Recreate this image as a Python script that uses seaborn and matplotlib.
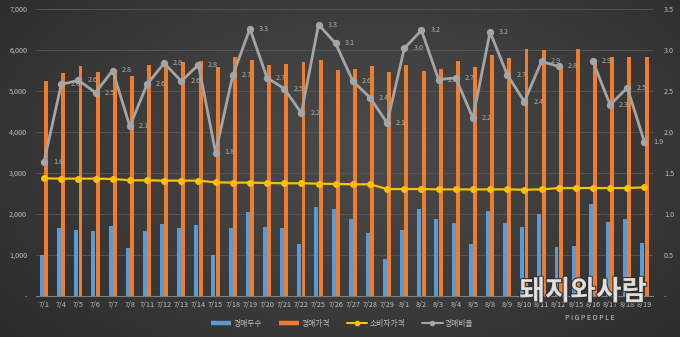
import numpy as np
import pandas as pd
import matplotlib
matplotlib.use("Agg")
import matplotlib.pyplot as plt
from matplotlib.lines import Line2D
import matplotlib.patheffects as pe
import seaborn as sns

# ---------------- data ----------------
dates = ['7/1', '7/4', '7/5', '7/6', '7/7', '7/8', '7/11', '7/12', '7/13', '7/14', '7/15', '7/18',
         '7/19', '7/20', '7/21', '7/22', '7/25', '7/26', '7/27', '7/28', '7/29', '8/1', '8/2', '8/3',
         '8/4', '8/5', '8/8', '8/9', '8/10', '8/11', '8/12', '8/15', '8/16', '8/17', '8/18', '8/19']
head_count = [1010, 1650, 1610, 1590, 1705, 1180, 1590, 1755, 1660, 1720, 1000, 1660,
              2055, 1690, 1660, 1260, 2160, 2110, 1870, 1530, 895, 1610, 2110, 1870,
              1770, 1270, 2065, 1790, 1690, 2000, 1195, 1220, 2235, 1795, 1885, 1285]
auction_price = [5250, 5440, 5620, 5465, 5500, 5367, 5636, 5650, 5700, 5727, 5587, 5832,
                 5750, 5636, 5668, 5717, 5750, 5521, 5538, 5620, 5457, 5636, 5497, 5538,
                 5727, 5595, 5873, 5808, 6035, 6003, 5595, 6020, 5700, 5825, 5832, 5832]
consumer_price = [2870, 2862, 2862, 2862, 2855, 2822, 2822, 2814, 2814, 2814, 2773, 2765,
                  2765, 2757, 2749, 2749, 2740, 2732, 2724, 2724, 2609, 2609, 2609, 2600,
                  2600, 2600, 2600, 2600, 2592, 2600, 2633, 2633, 2633, 2633, 2633, 2650]
ratio = [1.64, 2.58, 2.63, 2.48, 2.75, 2.07, 2.58, 2.84, 2.62, 2.82, 1.75, 2.69,
         3.26, 2.66, 2.53, 2.23, 3.31, 3.08, 2.62, 2.42, 2.11, 3.02, 3.24, 2.64,
         2.66, 2.17, 3.22, 2.70, 2.37, 2.86, 2.80, np.nan, 2.86, 2.33, 2.54, 1.88]
series_names = ['경매두수', '경매가격', '소비자가격', '경매비율']
left_ticks = [0, 1000, 2000, 3000, 4000, 5000, 6000, 7000]
left_ticklabels = ['-', '1,000', '2,000', '3,000', '4,000', '5,000', '6,000', '7,000']
right_ticks = [0, 0.5, 1.0, 1.5, 2.0, 2.5, 3.0, 3.5]
right_ticklabels = ['-', '0.5', '1.0', '1.5', '2.0', '2.5', '3.0', '3.5']
watermark_main = '돼지와사람'
watermark_sub = 'P I G P E O P L E'

# ---------------- style ----------------
BLUE = '#5B9BD5'
ORANGE = '#F07C2E'
YELLOW = '#FFC000'
GRAY = '#A5A5A5'
TXT = '#BFBFBF'

sns.set_style('dark')
plt.rcParams['font.family'] = ['Noto Sans CJK KR', 'DejaVu Sans']
plt.rcParams['axes.unicode_minus'] = False

fig = plt.figure(figsize=(6.8, 3.37), dpi=100)
fig.patch.set_facecolor('#333333')

# radial gradient background
bg = fig.add_axes([0, 0, 1, 1], zorder=-10)
H, W = 337, 680
yy, xx = np.mgrid[0:H, 0:W]
d = np.sqrt(((xx - 360) / 560.0) ** 2 + ((yy - 150) / 330.0) ** 2)
d = np.clip(d, 0, 1)
c0, c1 = 0x4A / 255, 0x24 / 255
val = c0 + (c1 - c0) * d ** 1.2
img = np.dstack([val, val, val])
bg.imshow(img, aspect='auto', extent=[0, 1, 0, 1], origin='upper')
bg.set_axis_off()

ax = fig.add_axes([35.5 / 680, 1 - 296 / 337, (653 - 35.5) / 680, (296 - 9) / 337])
ax.set_facecolor('none')

# bars
df = pd.DataFrame({
    'date': dates * 2,
    'value': head_count + auction_price,
    'series': [series_names[0]] * len(dates) + [series_names[1]] * len(dates),
})
sns.barplot(data=df, x='date', y='value', hue='series', order=dates,
            hue_order=series_names[:2], palette=[BLUE, ORANGE],
            width=0.5, gap=0.08, saturation=1, legend=False, ax=ax,
            edgecolor='none', linewidth=0, zorder=3)

x = np.arange(len(dates))
sns.lineplot(x=x, y=consumer_price, color=YELLOW, marker='o', markersize=4.2,
             markeredgecolor=YELLOW, linewidth=1.6, ax=ax, zorder=5)

ax.set_xlim(-0.5, len(dates) - 0.5)
ax.set_ylim(0, 7000)
ax.set_yticks(left_ticks)
ax.set_yticklabels(left_ticklabels)
ax.set_xlabel('')
ax.set_ylabel('')
ax.grid(False)
for t in left_ticks[1:]:
    ax.axhline(t, color='#555555', linewidth=0.7, zorder=1)
for s in ['top', 'right', 'left']:
    ax.spines[s].set_visible(False)
ax.spines['bottom'].set_color('#7F7F7F')
ax.spines['bottom'].set_linewidth(0.8)
ax.spines['bottom'].set_zorder(4)
ax.tick_params(axis='x', length=0, pad=3.5, labelsize=5.2, colors=TXT)
ax.tick_params(axis='y', length=0, pad=6, labelsize=5.2, colors=TXT)

# secondary axis
ax2 = ax.twinx()
ax2.set_facecolor('none')
seg = np.zeros(len(ratio), dtype=int)
nan_idx = [i for i, v in enumerate(ratio) if np.isnan(v)]
for i in nan_idx:
    seg[i:] += 1
rdf = pd.DataFrame({'x': x, 'ratio': ratio, 'seg': seg})
sns.lineplot(data=rdf, x='x', y='ratio', units='seg', estimator=None, color=GRAY,
             marker='o', markersize=4.5, markeredgecolor=GRAY, linewidth=2.0,
             ax=ax2, zorder=6, legend=False)
for xi, v in zip(x, ratio):
    if np.isnan(v):
        continue
    ax2.annotate(f'{v:.1f}', (xi, v), xytext=(6.5, 0), textcoords='offset points',
                 ha='left', va='center', fontsize=5.2, color='#AFAFAF', zorder=7)
ax2.set_ylim(0, 3.5)
ax2.set_yticks(right_ticks)
ax2.set_yticklabels(right_ticklabels)
ax2.set_ylabel('')
ax2.set_xlabel('')
ax2.grid(False)
for s in ['top', 'right', 'left', 'bottom']:
    ax2.spines[s].set_visible(False)
ax2.tick_params(axis='y', length=0, pad=8, labelsize=5.2, colors=TXT)
ax.set_xlim(-0.5, len(dates) - 0.5)

# legend
handles = [
    Line2D([], [], color=BLUE, linewidth=3.2, solid_capstyle='butt'),
    Line2D([], [], color=ORANGE, linewidth=3.2, solid_capstyle='butt'),
    Line2D([], [], color=YELLOW, linewidth=1.5, marker='o', markersize=3),
    Line2D([], [], color=GRAY, linewidth=1.5, marker='o', markersize=3),
]
leg = fig.legend(handles, series_names, loc='center', bbox_to_anchor=(342 / 680, 1 - 324 / 337),
                 ncol=4, frameon=False, fontsize=5.6, handlelength=2.6, handletextpad=0.3,
                 columnspacing=2.2)
for t in leg.get_texts():
    t.set_color(TXT)

# watermark logo
fig.text(583 / 680, 1 - 292 / 337, watermark_main, ha='center', va='center', fontsize=20,
         fontweight='bold', color='#E6E6E6', alpha=0.9, zorder=20,
         path_effects=[pe.withStroke(linewidth=1.5, foreground='#2a2a2a')])
fig.text(590 / 680, 1 - 318 / 337, watermark_sub, ha='center', va='center', fontsize=5,
         color='#E0E0E0', alpha=0.9, zorder=20)

fig.savefig('out.png', dpi=100, facecolor=fig.get_facecolor())
